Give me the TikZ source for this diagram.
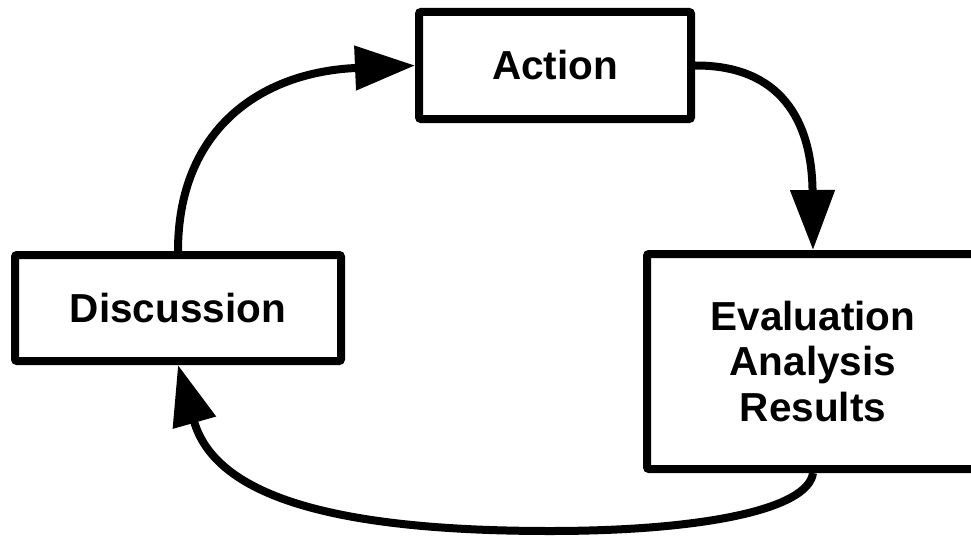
\documentclass[tikz,border=0pt]{standalone}
\usepackage{fontspec}
\setmainfont{Liberation Sans}
\usetikzlibrary{arrows.meta}

\tikzset{
  stagebox/.style={draw=black, line width=8pt, rounded corners=2pt, fill=white,
    inner sep=0pt, align=center, font=\bfseries\fontsize{40.5}{45.5}\selectfont},
  cyclearrow/.style={line width=8pt, draw=black,
    -{Triangle[length=60pt,width=43pt]}},
}

\begin{document}
\begin{tikzpicture}[x=1pt, y=-1pt]
  \useasboundingbox (0,0) rectangle (971,543);
  \clip (0,0) rectangle (971,543);

  % the three stages of the cycle
  \node[stagebox, minimum width=326pt, minimum height=106pt] (disc) at (178,308) {Discussion};
  \node[stagebox, minimum width=272pt, minimum height=107pt] (action) at (555,65.5) {Action};
  \node[stagebox, minimum width=332pt, minimum height=215pt] (eval) at (813,361.5)
    {Evaluation\\Analysis\\Results};

  % connectors between the stages
  \draw[cyclearrow] (disc.north) .. controls (178,130) and (260,72) .. (action.west);
  \draw[cyclearrow] (action.east) .. controls (780,65) and (812,120) .. (eval.north);
  \coordinate (low) at (550,531);
  \draw[cyclearrow] (eval.south) .. controls (808,510) and (700,531) .. (low)
    .. controls (330,531) and (215,495) .. (disc.south);
\end{tikzpicture}
\end{document}
